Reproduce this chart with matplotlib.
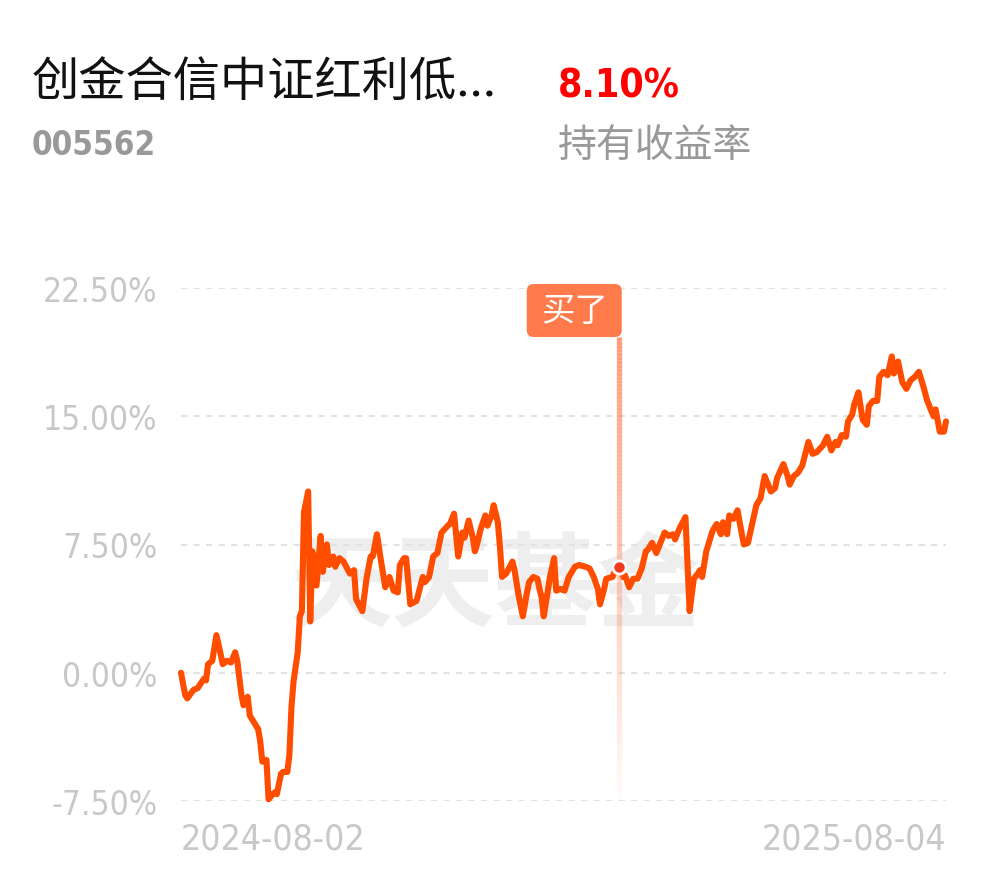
import matplotlib
matplotlib.use('Agg')
import matplotlib.pyplot as plt
from matplotlib import font_manager as fm
import matplotlib.patches as mpatches
import matplotlib.transforms as mtransforms
from matplotlib.collections import LineCollection
import numpy as np

# ---------------- data ----------------
fund_name = '创金合信中证红利低...'
fund_code = '005562'
holding_return = '8.10%'
holding_label = '持有收益率'
watermark = '天天基金'
buy_label = '买了'

start_label = '2024-08-02'
end_label = '2025-08-04'
total_days = 367

y_ticks = [-7.5, 0.0, 7.5, 15.0, 22.5]

# day offset from 2024-08-02
days = [0, 2, 3, 6, 8, 11, 12, 13, 15, 17, 19, 20, 22, 24, 26, 27, 29, 30, 32, 33,
        35, 37, 38, 39, 41, 42, 44, 45, 46, 48, 49, 51, 52, 53, 54, 56, 57, 58, 59, 61,
        62, 63, 65, 67, 68, 70, 71, 73, 74, 76, 78, 81, 83, 84, 87, 89, 91, 92, 94, 96,
        98, 100, 102, 104, 105, 107, 108, 110, 113, 116, 117, 119, 121, 123, 125, 128, 129, 131, 133, 135,
        136, 138, 140, 141, 142, 144, 146, 147, 149, 150, 152, 153, 154, 156, 159, 160, 162, 164, 166, 167,
        169, 171, 172, 173, 174, 176, 177, 179, 180, 182, 184, 186, 188, 189, 191, 194, 196, 198, 200, 201,
        203, 204, 207, 208, 210, 212, 213, 215, 217, 219, 221, 223, 224, 226, 228, 230, 232, 234, 236, 237,
        239, 242, 244, 246, 248, 249, 250, 252, 255, 257, 259, 260, 262, 263, 265, 267, 268, 270, 272, 274,
        276, 278, 280, 283, 285, 286, 289, 291, 292, 294, 296, 298, 301, 303, 305, 308, 310, 312, 314, 315,
        317, 319, 320, 322, 323, 325, 327, 329, 330, 332, 334, 335, 337, 339, 341, 342, 344, 345, 346, 348,
        350, 352, 354, 356, 358, 360, 361, 362, 364, 366, 367]

# holding return in %
returns = [0.0, -1.3, -1.5, -1.0, -0.9, -0.35, -0.45, 0.5, 0.7, 2.2, 1.1, 0.5, 0.7, 0.6, 1.2, 0.7, -1.3, -1.9, -1.4, -2.5,
           -2.9, -3.3, -4.0, -5.2, -5.1, -7.4, -7.1, -7.0, -7.1, -5.9, -5.8, -5.8, -4.8, -2.0, -0.5, 1.2, 3.3, 3.6, 9.4, 10.6,
           3.0, 7.1, 5.1, 8.0, 5.9, 7.5, 6.3, 6.8, 6.2, 6.7, 6.5, 5.8, 6.0, 4.3, 3.6, 5.5, 6.8, 6.8, 8.1, 6.5,
           5.0, 5.6, 4.8, 4.7, 6.3, 6.7, 6.7, 4.0, 4.2, 5.6, 5.3, 5.6, 6.8, 7.0, 8.2, 8.6, 8.7, 9.3, 6.8, 8.2,
           7.9, 8.9, 7.9, 7.1, 7.5, 8.5, 9.2, 8.6, 9.2, 9.8, 8.8, 7.4, 5.6, 5.8, 6.5, 6.0, 4.5, 3.3, 4.7, 5.3,
           5.6, 5.5, 4.9, 4.4, 3.3, 4.8, 5.6, 6.7, 4.8, 4.9, 4.8, 5.6, 6.0, 6.2, 6.3, 6.2, 6.1, 5.6, 4.9, 4.0,
           4.9, 5.5, 5.6, 5.9, 6.2, 5.6, 5.7, 5.0, 5.5, 5.5, 6.1, 7.1, 7.2, 7.6, 7.0, 7.6, 8.2, 8.0, 8.1, 7.8,
           8.4, 9.1, 3.6, 5.5, 5.8, 6.0, 5.6, 7.1, 8.3, 8.7, 8.1, 8.8, 8.1, 9.2, 9.0, 9.5, 8.8, 7.5, 7.6, 8.7,
           9.8, 10.2, 11.5, 10.6, 10.8, 11.4, 12.2, 11.5, 11.0, 11.5, 11.7, 12.1, 13.5, 12.8, 12.9, 13.3, 13.8, 13.0, 13.5, 13.3,
           13.9, 13.8, 14.7, 15.1, 15.7, 16.4, 14.8, 14.5, 15.6, 15.9, 15.9, 17.3, 17.6, 17.4, 18.5, 17.5, 18.2, 17.6, 17.0, 16.6,
           17.1, 17.3, 17.6, 16.8, 15.9, 15.3, 15.0, 15.4, 14.1, 14.1, 14.7]

buy_day = 210

# ---------------- fonts ----------------
CJK = 'Noto Sans CJK SC'
plt.rcParams['font.family'] = [CJK, 'DejaVu Sans']


def _w(f):
    w = f.weight
    if isinstance(w, str):
        w = fm.weight_dict.get(w, 400)
    return w


def find_narrow(bold):
    cands = []
    for f in fm.fontManager.ttflist:
        nm = f.name.lower()
        narrow = ('condensed' in str(f.stretch)) or ('narrow' in nm) or ('condensed' in nm)
        if not narrow or f.style != 'normal':
            continue
        isbold = _w(f) >= 600
        if isbold != bold:
            continue
        cands.append(f)
    if cands:
        cands.sort(key=lambda f: abs(_w(f) - (700 if bold else 400)))
        return fm.FontProperties(fname=cands[0].fname)
    return fm.FontProperties(family='Roboto', weight='bold' if bold else 'normal')


NUM_REG = find_narrow(False)
NUM_BOLD = find_narrow(True)

W, H = 990, 878
fig = plt.figure(figsize=(W / 100, H / 100), dpi=100)
fig.patch.set_facecolor('white')

ax = fig.add_axes([181 / W, (H - 802) / H, (946 - 181) / W, (802 - 289) / H])
ax.set_xlim(0, total_days)
ax.set_ylim(-7.5, 22.5)
for s in ax.spines.values():
    s.set_visible(False)

# watermark
ax.text(495 / W, 1 - 588 / H, watermark, transform=fig.transFigure, ha='center', va='center',
        fontsize=74, fontweight='bold', color='#eeeeee', zorder=0, family=[CJK])

# grid
for t in y_ticks:
    ax.axhline(t, color='#e2e2e2', lw=1.5, ls=(0, (3, 3)), zorder=1)

# main line
ax.plot(days, returns, color='#ff4d00', lw=4.4, solid_joinstyle='round', solid_capstyle='round',
        zorder=3, clip_on=False)

# ticks
ax.set_yticks(y_ticks)
yl = ax.set_yticklabels([f'{t:.2f}%' for t in y_ticks], fontproperties=NUM_REG, color='#c8c8c8')
ax.set_xticks([0, total_days])
xl = ax.set_xticklabels([start_label, end_label], fontproperties=NUM_REG, color='#c8c8c8')
xl[0].set_ha('left')
xl[1].set_ha('right')
ax.tick_params(axis='y', length=0, pad=17)
ax.tick_params(axis='x', length=0, pad=15)

# header
t_name = fig.text(32 / W, 1 - 84 / H, fund_name, fontsize=34, color='#111111', ha='left', va='center')
t_code = fig.text(32 / W, 1 - 146 / H, fund_code, fontproperties=NUM_BOLD.copy(),
                  color='#999999', ha='left', va='center')
t_ret = fig.text(558 / W, 1 - 86 / H, holding_return, fontproperties=NUM_BOLD.copy(),
                 color='#ff0000', ha='left', va='center')
t_lab = fig.text(558 / W, 1 - 146 / H, holding_label, fontsize=28, color='#999999', ha='left', va='center')


def fit(texts, target_px, base=30.0):
    for t in texts:
        t.set_fontsize(base)
    fig.canvas.draw()
    r = fig.canvas.get_renderer()
    wpx = texts[0].get_window_extent(r).width
    size = base * target_px / wpx
    for t in texts:
        t.set_fontsize(size)


fit([t_code], 124)
fit([t_ret], 122)
fit(list(yl)[::-1], 114)   # '22.50%' first
fit(list(xl), 185)

# buy marker
buy_val = returns[days.index(buy_day)]
fig.canvas.draw()
bx, by = ax.transData.transform((buy_day, 22.5))
box_w, box_h = 95, 53
box = mpatches.FancyBboxPatch((bx + 3 - box_w, by + 4 - box_h), box_w, box_h,
                              boxstyle='round,pad=0,rounding_size=7', fc='#ff7b4b', ec='none',
                              transform=mtransforms.IdentityTransform(), zorder=6)
fig.add_artist(box)
cx, cy = fig.transFigure.inverted().transform((bx + 3 - box_w / 2, by + 4 - box_h / 2))
fig.text(cx, cy, buy_label, ha='center', va='center', fontsize=24, color='white', zorder=7)

top_val = ax.transData.inverted().transform((bx, by + 4 - box_h))[1]
ys = np.linspace(top_val, -7.3, 120)
segs = [[(buy_day, ys[i]), (buy_day, ys[i + 1])] for i in range(len(ys) - 1)]
alphas = np.linspace(0.8, 0.03, len(segs))
cols = [(1.0, 0.50, 0.33, a) for a in alphas]
lc = LineCollection(segs, colors=cols, linewidths=3.8, zorder=4)
ax.add_collection(lc)

ax.plot([buy_day], [buy_val], 'o', ms=9.5, mfc='#f23a1e', mec='white', mew=2, zorder=5, clip_on=False)

fig.savefig('out.png', dpi=100, facecolor='white')
